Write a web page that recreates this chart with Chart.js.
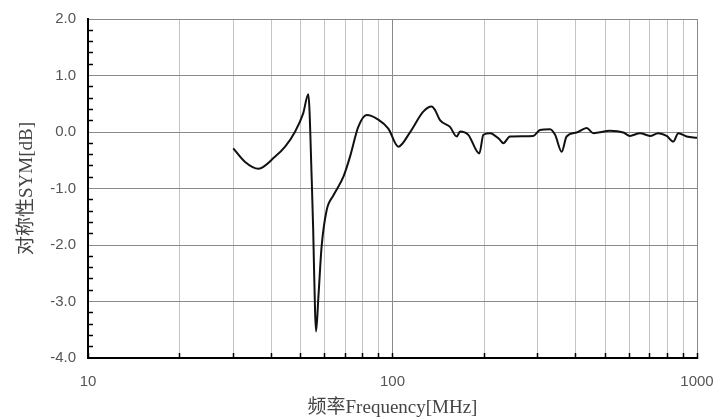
<!DOCTYPE html>
<html>
<head>
<meta charset="utf-8">
<script src="https://cdn.jsdelivr.net/npm/chart.js@4/dist/chart.umd.min.js"></script>
<style>
  html, body { margin: 0; padding: 0; background: #fff; }
  #symChart { display: block; }
</style>
</head>
<body>
<canvas id="symChart" width="719" height="420"></canvas>
<script>
// frequency [MHz] and symmetry [dB]
const freqMHz = [30.0, 32.8, 36.3, 41.1, 44.4, 47.8, 50.9, 52.9, 54.3, 54.9, 55.2, 55.7, 56.1, 57.1, 58.5, 60.8, 64, 69, 72.5, 77.2, 82.3, 89.8, 96.9, 104.5, 114, 126.2, 134.5, 137.9, 143.2, 154.5, 162.5, 166.7, 177.4, 192.8, 198.8, 209, 225.5, 231, 243, 290, 305, 329, 342, 359.5, 373, 402.6, 434.2, 456.6, 518, 573, 602, 650, 701, 746, 795, 836, 868, 925, 1000];
const symDB = [-0.29, -0.53, -0.65, -0.44, -0.26, 0.0, 0.33, 0.67, -0.85, -1.74, -2.32, -3.2, -3.53, -2.92, -2.03, -1.38, -1.12, -0.79, -0.44, 0.09, 0.30, 0.22, 0.06, -0.26, -0.01, 0.36, 0.45, 0.39, 0.21, 0.09, -0.08, 0.01, -0.05, -0.38, -0.05, -0.02, -0.14, -0.2, -0.08, -0.07, 0.035, 0.05, -0.05, -0.35, -0.08, -0.01, 0.07, -0.02, 0.02, -0.01, -0.07, -0.02, -0.07, -0.02, -0.07, -0.17, -0.02, -0.08, -0.1];

const xTicks = [10, 20, 30, 40, 50, 60, 70, 80, 90, 100, 200, 300, 400, 500, 600, 700, 800, 900, 1000];
const xLabels = [10, 100, 1000];
const yMin = -4, yMax = 2, yStep = 0.2;

const xTitle = '频率Frequency[MHz]';
const yTitle = '对称性SYM[dB]';

const isInt = v => Math.abs(v - Math.round(v)) < 1e-6;
const tickFont = { family: 'Liberation Sans, Arial, sans-serif', size: 15 };
const titleFont = { family: '"Liberation Serif", "Noto Sans CJK SC", serif', size: 19 };

const ctx = document.getElementById('symChart').getContext('2d');
const symChart = new Chart(ctx, {
    type: 'line',
    data: {
        datasets: [{
            data: freqMHz.map((f, i) => ({ x: f, y: symDB[i] })),
            borderColor: '#111',
            borderWidth: 2,
            pointRadius: 0,
            cubicInterpolationMode: 'monotone',
            fill: false
        }]
    },
    options: {
        responsive: false,
        animation: false,
        devicePixelRatio: 1,
        layout: { padding: { top: 19, right: 22, left: 0, bottom: 0 } },
        plugins: {
            legend: { display: false },
            tooltip: { enabled: false }
        },
        scales: {
            x: {
                type: 'logarithmic',
                min: 10,
                max: 1000,
                afterBuildTicks: scale => {
                    scale.ticks = xTicks.map(v => ({ value: v, major: xLabels.includes(v) }));
                },
                afterFit: scale => {
                    scale.height = 62;
                    scale.paddingLeft = 0;
                    scale.paddingRight = 0;
                },
                ticks: {
                    autoSkip: false,
                    maxRotation: 0,
                    padding: 20,
                    color: '#555',
                    font: tickFont,
                    callback: v => xLabels.includes(v) ? String(v) : ''
                },
                grid: {
                    color: c => xLabels.includes(c.tick.value) ? '#8a8a8a' : '#c4c4c4',
                    lineWidth: 1,
                    tickLength: -5,
                    tickColor: '#000',
                    tickWidth: 1.5
                },
                border: { color: '#000', width: 2 },
                title: {
                    display: true,
                    text: xTitle,
                    color: '#444',
                    font: titleFont,
                    padding: { top: 0, bottom: 1 }
                }
            },
            y: {
                min: yMin,
                max: yMax,
                afterFit: scale => {
                    scale.width = 88;
                    scale.paddingTop = 0;
                    scale.paddingBottom = 0;
                },
                ticks: {
                    stepSize: yStep,
                    autoSkip: false,
                    padding: 17,
                    color: '#555',
                    font: tickFont,
                    callback: v => isInt(v) ? v.toFixed(1) : ''
                },
                grid: {
                    color: c => isInt(c.tick.value) ? '#8a8a8a' : 'rgba(0,0,0,0)',
                    lineWidth: 1,
                    tickLength: -5,
                    tickColor: c => isInt(c.tick.value) ? 'rgba(0,0,0,0)' : '#000',
                    tickWidth: 1.5
                },
                border: { color: '#000', width: 2 },
                title: {
                    display: true,
                    text: yTitle,
                    color: '#444',
                    font: titleFont,
                    padding: { top: 16, bottom: 0 }
                }
            }
        }
    }
});
</script>
</body>
</html>
